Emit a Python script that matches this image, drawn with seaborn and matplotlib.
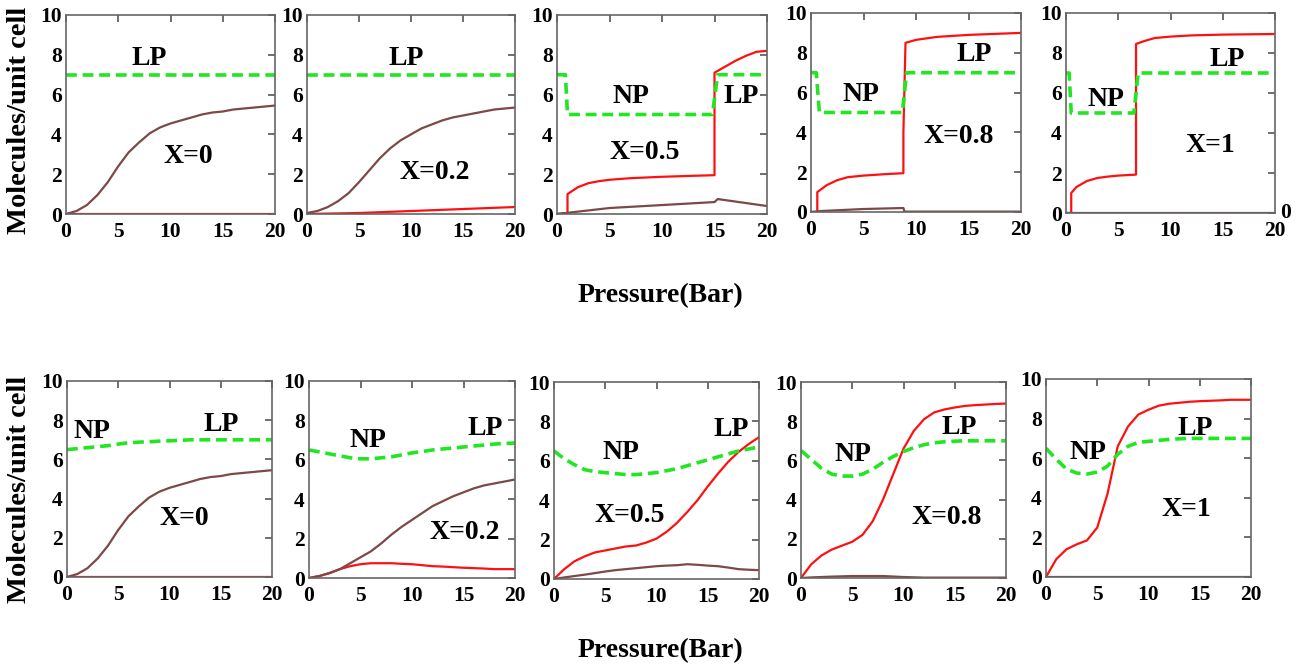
import matplotlib
matplotlib.use("Agg")
import matplotlib.pyplot as plt
import seaborn as sns
import pandas as pd

# ----------------------------
# Data
# ----------------------------
# smooth curves share this pressure grid (bar)
p_grid = [0, 1, 2, 3, 4, 5, 6, 7, 8, 9, 10, 11, 12, 13, 14, 15, 16, 17, 18, 19, 20]

# --- top row ---
t1_brown = [0, 0.15, 0.45, 0.95, 1.6, 2.4, 3.1, 3.6, 4.05, 4.35, 4.55, 4.7, 4.85, 5.0, 5.1, 5.15, 5.25, 5.3, 5.35, 5.4, 5.45]
t1_red_p, t1_red = [0, 20], [0, 0]
t1_green_p, t1_green = [0, 20], [7, 7]

t2_brown = [0.05, 0.15, 0.35, 0.65, 1.05, 1.6, 2.2, 2.8, 3.3, 3.7, 4.0, 4.3, 4.5, 4.7, 4.85, 4.95, 5.05, 5.15, 5.25, 5.3, 5.35]
t2_red_p, t2_red = [0, 5, 10, 15, 20], [0, 0.05, 0.15, 0.25, 0.35]
t2_green_p, t2_green = [0, 20], [7, 7]

t3_red_p = [0, 1, 1, 2, 3, 4, 5, 7, 10, 13, 15, 15, 16, 17, 18, 19, 20]
t3_red = [0, 0.05, 1.0, 1.35, 1.55, 1.65, 1.72, 1.8, 1.87, 1.92, 1.95, 7.1, 7.4, 7.7, 7.95, 8.15, 8.2]
t3_brown_p = [0, 5, 10, 15, 15.3, 16, 18, 20]
t3_brown = [0, 0.3, 0.45, 0.6, 0.75, 0.7, 0.55, 0.4]
t3_green_p = [0, 0.8, 1.0, 14.8, 15.3, 20]
t3_green = [7, 7, 5, 5, 7, 7]

t4_red_p = [0, 0.6, 0.6, 1.5, 2.5, 3.5, 5, 7, 8.8, 8.8, 9.0, 10, 12, 15, 20]
t4_red = [0, 0, 1.0, 1.35, 1.6, 1.75, 1.83, 1.9, 1.95, 4.0, 8.5, 8.65, 8.8, 8.9, 9.0]
t4_brown_p = [0, 1, 3, 5, 8.8, 8.9, 20]
t4_brown = [0, 0.05, 0.1, 0.15, 0.2, 0.02, 0.02]
t4_green_p = [0, 0.5, 0.8, 8.7, 9.1, 20]
t4_green = [7, 7, 5, 5, 7, 7]

t5_red_p = [0, 0.5, 0.5, 1, 2, 3, 4, 5, 6.7, 6.7, 7.5, 8.5, 10, 12, 15, 20]
t5_red = [0, 0, 1.0, 1.3, 1.6, 1.75, 1.82, 1.87, 1.92, 8.45, 8.6, 8.75, 8.82, 8.88, 8.92, 8.95]
t5_brown_p, t5_brown = [0, 20], [0, 0]
t5_green_p = [0, 0.3, 0.5, 6.5, 6.9, 20]
t5_green = [7, 7, 5, 5, 7, 7]

# --- bottom row ---
b1_brown = [0, 0.15, 0.45, 0.95, 1.6, 2.4, 3.1, 3.6, 4.05, 4.35, 4.55, 4.7, 4.85, 5.0, 5.1, 5.15, 5.25, 5.3, 5.35, 5.4, 5.45]
b1_red_p, b1_red = [0, 20], [0, 0]
b1_green = [6.5, 6.55, 6.6, 6.65, 6.7, 6.78, 6.85, 6.88, 6.9, 6.93, 6.95, 6.97, 7.0, 7.0, 7.0, 7.0, 7.0, 7.0, 7.0, 7.0, 7.0]

b2_green = [6.5, 6.4, 6.3, 6.2, 6.1, 6.05, 6.05, 6.1, 6.15, 6.25, 6.35, 6.42, 6.5, 6.55, 6.6, 6.65, 6.7, 6.75, 6.8, 6.83, 6.85]
b2_brown = [0, 0.1, 0.25, 0.45, 0.75, 1.05, 1.35, 1.75, 2.2, 2.6, 2.95, 3.3, 3.65, 3.9, 4.15, 4.35, 4.55, 4.7, 4.8, 4.9, 5.0]
b2_red = [0, 0.1, 0.25, 0.45, 0.6, 0.7, 0.75, 0.75, 0.75, 0.72, 0.7, 0.65, 0.6, 0.58, 0.55, 0.52, 0.5, 0.48, 0.45, 0.45, 0.45]

b3_green = [6.5, 6.1, 5.8, 5.55, 5.45, 5.4, 5.35, 5.3, 5.3, 5.35, 5.4, 5.5, 5.6, 5.75, 5.9, 6.05, 6.2, 6.35, 6.5, 6.6, 6.7]
b3_red = [0, 0.5, 0.9, 1.15, 1.35, 1.45, 1.55, 1.65, 1.7, 1.85, 2.05, 2.4, 2.85, 3.4, 4.0, 4.7, 5.35, 5.95, 6.45, 6.85, 7.2]
b3_brown = [0, 0.08, 0.15, 0.22, 0.3, 0.38, 0.45, 0.5, 0.55, 0.6, 0.65, 0.68, 0.7, 0.75, 0.72, 0.68, 0.65, 0.58, 0.5, 0.47, 0.45]

b4_green = [6.5, 6.05, 5.6, 5.3, 5.2, 5.2, 5.3, 5.55, 5.9, 6.2, 6.45, 6.65, 6.8, 6.9, 6.95, 6.98, 7.0, 7.0, 7.0, 7.0, 7.0]
b4_red = [0, 0.7, 1.15, 1.45, 1.65, 1.85, 2.2, 2.9, 4.0, 5.3, 6.6, 7.5, 8.1, 8.45, 8.6, 8.7, 8.78, 8.82, 8.85, 8.88, 8.9]
b4_brown_p = [0, 1, 3, 5, 8, 10, 12, 20]
b4_brown = [0, 0.03, 0.07, 0.1, 0.1, 0.05, 0.02, 0.02]

b5_green = [6.5, 5.95, 5.45, 5.25, 5.2, 5.3, 5.6, 6.2, 6.6, 6.8, 6.85, 6.9, 6.95, 6.98, 7.0, 7.0, 7.0, 7.0, 7.0, 7.0, 7.0]
b5_red = [0, 0.9, 1.4, 1.65, 1.85, 2.5, 4.2, 6.6, 7.6, 8.2, 8.45, 8.65, 8.75, 8.8, 8.85, 8.88, 8.9, 8.92, 8.95, 8.95, 8.95]
b5_brown_p, b5_brown = [0, 20], [0, 0]

# panel annotations: (text, x, y) in data coords
notes = {
    "t1": [("LP", 8.0, 7.8), ("X=0", 11.7, 2.9)],
    "t2": [("LP", 9.5, 7.8), ("X=0.2", 12.3, 2.1)],
    "t3": [("NP", 7.0, 5.9), ("LP", 17.5, 5.9), ("X=0.5", 8.4, 3.1)],
    "t4": [("NP", 4.8, 5.9), ("LP", 15.5, 7.9), ("X=0.8", 14.1, 3.8)],
    "t5": [("NP", 3.8, 5.7), ("LP", 15.4, 7.7), ("X=1", 13.8, 3.4)],
    "b1": [("NP", 2.4, 7.4), ("LP", 15.0, 7.8), ("X=0", 11.4, 3.0)],
    "b2": [("NP", 5.7, 7.0), ("LP", 17.1, 7.6), ("X=0.2", 15.1, 2.3)],
    "b3": [("NP", 6.5, 6.4), ("LP", 17.3, 7.6), ("X=0.5", 7.4, 3.2)],
    "b4": [("NP", 5.1, 6.3), ("LP", 15.4, 7.7), ("X=0.8", 14.2, 3.1)],
    "b5": [("NP", 4.1, 6.3), ("LP", 14.6, 7.5), ("X=1", 13.7, 3.4)],
}

# ----------------------------
# Build long table
# ----------------------------
series = [
    ("t1", "red", t1_red_p, t1_red), ("t1", "brown", p_grid, t1_brown), ("t1", "green", t1_green_p, t1_green),
    ("t2", "red", t2_red_p, t2_red), ("t2", "brown", p_grid, t2_brown), ("t2", "green", t2_green_p, t2_green),
    ("t3", "red", t3_red_p, t3_red), ("t3", "brown", t3_brown_p, t3_brown), ("t3", "green", t3_green_p, t3_green),
    ("t4", "red", t4_red_p, t4_red), ("t4", "brown", t4_brown_p, t4_brown), ("t4", "green", t4_green_p, t4_green),
    ("t5", "red", t5_red_p, t5_red), ("t5", "brown", t5_brown_p, t5_brown), ("t5", "green", t5_green_p, t5_green),
    ("b1", "red", b1_red_p, b1_red), ("b1", "brown", p_grid, b1_brown), ("b1", "green", p_grid, b1_green),
    ("b2", "red", p_grid, b2_red), ("b2", "brown", p_grid, b2_brown), ("b2", "green", p_grid, b2_green),
    ("b3", "red", p_grid, b3_red), ("b3", "brown", p_grid, b3_brown), ("b3", "green", p_grid, b3_green),
    ("b4", "red", p_grid, b4_red), ("b4", "brown", b4_brown_p, b4_brown), ("b4", "green", p_grid, b4_green),
    ("b5", "red", p_grid, b5_red), ("b5", "brown", b5_brown_p, b5_brown), ("b5", "green", p_grid, b5_green),
]
rows = []
for panel, name, xs, ys in series:
    for i, (x, y) in enumerate(zip(xs, ys)):
        rows.append({"panel": panel, "series": name, "order": i, "pressure": x, "n": y})
df = pd.DataFrame(rows)

# ----------------------------
# Style
# ----------------------------
sns.set_style("white")
plt.rcParams["font.family"] = ["Liberation Serif", "DejaVu Serif"]
plt.rcParams["font.weight"] = "bold"
plt.rcParams["text.color"] = "black"

line_style = {
    "red": dict(color="#ff1010", linewidth=1.6),
    "brown": dict(color="#7d4848", linewidth=1.6),
    "green": dict(color="#22e622", linewidth=2.6, linestyle=(0, (3, 1.6))),
}

W, H = 1304, 666
fig = plt.figure(figsize=(W / 100, H / 100), dpi=100)

# axes boxes in pixels: left, top, right, bottom
boxes = {
    "t1": (66, 15, 275, 214), "t2": (307, 15, 515, 214), "t3": (557, 15, 767, 214),
    "t4": (811, 13, 1021, 212), "t5": (1066, 13, 1275, 213),
    "b1": (67, 381, 272, 577), "b2": (309, 381, 515, 578), "b3": (554, 382, 759, 579),
    "b4": (801, 382, 1006, 578), "b5": (1046, 379, 1251, 577),
}

for panel, (l, t, r, b) in boxes.items():
    ax = fig.add_axes([l / W, 1 - b / H, (r - l) / W, (b - t) / H])
    sub = df[df["panel"] == panel]
    for name in ["red", "brown", "green"]:
        d = sub[sub["series"] == name].sort_values("order")
        sns.lineplot(data=d, x="pressure", y="n", estimator=None, sort=False,
                     ax=ax, legend=False, **line_style[name])
    ax.set_xlim(0, 20)
    ax.set_ylim(0, 10)
    ax.set_xticks([0, 5, 10, 15, 20])
    ax.set_yticks([0, 2, 4, 6, 8, 10])
    ax.tick_params(direction="in", top=True, right=True, length=5, width=1.2,
                   color="#555555", labelcolor="black", labelsize=15.5)
    ax.tick_params(axis="x", pad=6)
    ax.tick_params(axis="y", pad=3)
    for lab in ax.get_xticklabels() + ax.get_yticklabels():
        lab.set_fontweight("bold")
    for sp in ax.spines.values():
        sp.set_color("#666666")
        sp.set_linewidth(1.2)
    ax.set_xlabel("")
    ax.set_ylabel("")
    for txt, x, y in notes[panel]:
        ax.text(x, y, txt, ha="center", va="center", fontsize=20, fontweight="bold",
                color="black")

# axis titles
for yc, xc in [(120, 296), (489, 651)]:
    fig.text(20 / W, 1 - yc / H, "Molecules/unit cell", rotation=90, ha="center",
             va="center", fontsize=20.5, fontweight="bold", color="black")
    fig.text(660 / W, 1 - xc / H, "Pressure(Bar)", ha="center", va="center",
             fontsize=20, fontweight="bold", color="black")
fig.text(1286 / W, 1 - 213 / H, "0", ha="center", va="center", fontsize=15.5,
         fontweight="bold", color="black")

fig.savefig("out.png", dpi=100)
